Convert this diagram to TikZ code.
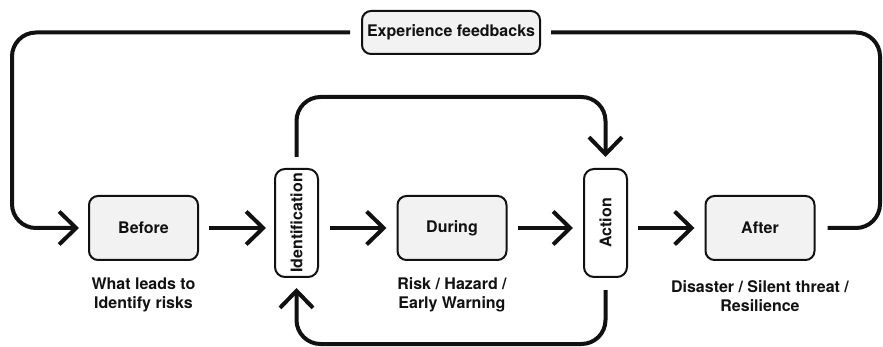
\documentclass[tikz,border=0pt]{standalone}
\usepackage{fontspec}
\setmainfont{TeX Gyre Heros}
\usepackage{graphicx}
\usetikzlibrary{arrows.meta}
\definecolor{boxfill}{HTML}{F1F2F1}
\definecolor{ink}{HTML}{111111}
\begin{document}
\begin{tikzpicture}[x=1pt,y=-1pt,
  every node/.style={font=\fontsize{16}{19}\selectfont\bfseries, text=ink},
  phase/.style={draw=ink, line width=2pt, fill=boxfill, rounded corners=9pt,
    minimum width=109pt, minimum height=64pt, inner sep=0pt},
  gate/.style={draw=ink, line width=2pt, fill=white, rounded corners=10pt,
    minimum width=43pt, minimum height=108pt, inner sep=0pt},
  feedback/.style={draw=ink, line width=2pt, fill=boxfill, rounded corners=9pt,
    minimum width=178pt, minimum height=43pt, inner sep=0pt},
  caption/.style={align=center, inner sep=0pt},
  flow/.style={draw=ink, line width=4pt, rounded corners=24pt,
    -{Straight Barb[length=17pt, width=33pt]}},
  rail/.style={draw=ink, line width=4pt, rounded corners=24pt}]
\useasboundingbox (0,0) rectangle (883,347);

% phase boxes and gates
\node[phase] (before) at (143.5,228) {Before};
\node[gate] (ident) at (296.5,223) {\rotatebox{90}{Identification}};
\node[phase] (during) at (452,228) {During};
\node[gate] (action) at (605.5,223) {\rotatebox{90}{Action}};
\node[phase] (after) at (760,228) {After};
\node[feedback] (exp) at (451,32.5) {Experience feedbacks};

% captions under the phases
\node[caption] (capbefore) at (143.5,294.5) {What leads to\\Identify risks};
\node[caption] (capduring) at (452,294.5) {Risk / Hazard /\\Early Warning};
\node[caption] (capafter) at (760,296) {Disaster / Silent threat /\\Resilience};

% rails of the loops
\coordinate (leftrail) at (12,228);
\coordinate (rightrail) at (880,228);
\coordinate (toprail) at (296.5,97);
\coordinate (botrail) at (296.5,344);

% main chain (all on the level of the phase boxes)
\draw[flow] ([xshift=10pt]before.east) -- ([xshift=-8pt]ident.west |- before.east);
\draw[flow] ([xshift=11pt]ident.east |- during.west) -- ([xshift=-10pt]during.west);
\draw[flow] ([xshift=10pt]during.east) -- ([xshift=-10pt]action.west |- during.east);
\draw[flow] ([xshift=10pt]action.east |- after.west) -- ([xshift=-10pt]after.west);

% experience feedback loop
\draw[rail] ([xshift=12pt]after.east) -- (rightrail) |- ([xshift=10pt]exp.east);
\draw[flow] ([xshift=-11pt]exp.west) -| (leftrail) -- ([xshift=-9pt]before.west);

% identification / action loops
\draw[flow] ([yshift=11pt]ident.north) -- (toprail) -| ([yshift=11pt]action.north);
\draw[flow] ([yshift=-12pt]action.south) |- (botrail) -- ([yshift=-10pt]ident.south);
\end{tikzpicture}
\end{document}
